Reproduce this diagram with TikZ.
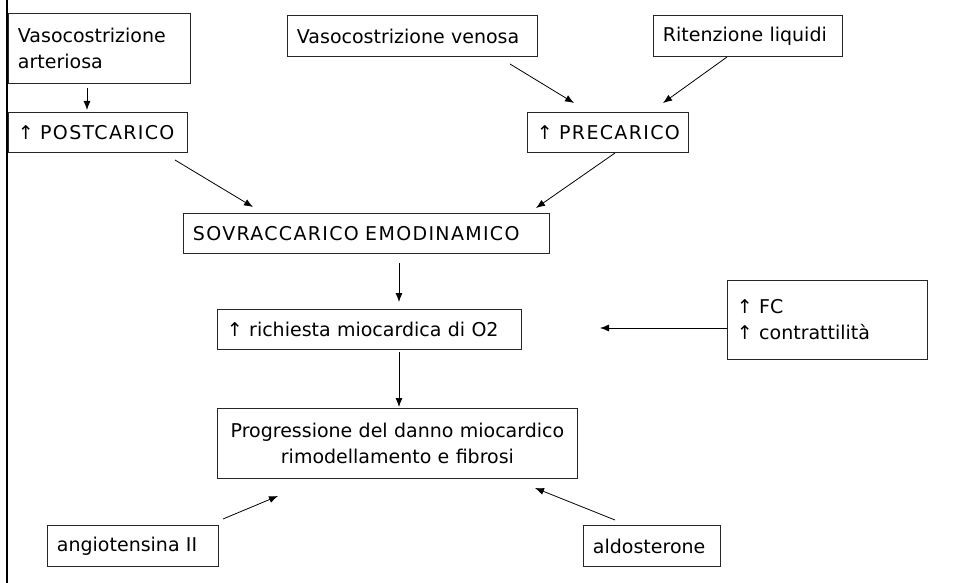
\documentclass[tikz,border=0pt]{standalone}
\usepackage{fontspec}
\setmainfont{DejaVu Sans}
\newfontfamily\capsfont[LetterSpace=7]{DejaVu Sans}
\usetikzlibrary{arrows.meta}
\begin{document}
\begin{tikzpicture}[x=1pt,y=-1pt,
  box/.style={draw=black!85, line width=0.9pt, inner xsep=9.5pt, inner ysep=0pt,
    font=\fontsize{19}{26}\selectfont, align=left, anchor=north west},
  capsbox/.style={box, font=\fontsize{19}{26}\selectfont\capsfont},
  arr/.style={-{Latex[length=9pt,width=7pt]}, line width=0.8pt}]
\fill[white] (0,0) rectangle (954,583);
\useasboundingbox (0,0) rectangle (954,583);
\draw[line width=2.6pt] (7,0) -- (7,583);
% boxes
\node[box, text width=163pt, minimum height=70pt] (va) at (8,13) {Vasocostrizione\\arteriosa};
\node[capsbox, text width=160pt, minimum height=40pt] (post) at (8,112) {\mbox{↑ POSTCARICO}};
\node[box, text width=231pt, minimum height=41pt] (vv) at (287,15) {Vasocostrizione venosa};
\node[box, text width=170pt, minimum height=41pt] (rl) at (653,15) {Ritenzione liquidi};
\node[capsbox, text width=142pt, minimum height=40pt] (pre) at (527,112) {\mbox{↑ PRECARICO}};
\node[capsbox, text width=347pt, minimum height=40pt] (sov) at (183,213) {\mbox{SOVRACCARICO EMODINAMICO}};
\node[box, text width=285pt, minimum height=40pt] (ric) at (217,309) {↑ richiesta miocardica di O2};
\node[box, text width=181pt, minimum height=79pt] (fc) at (727,280) {↑ FC\\↑ contrattilità};
\node[box, text width=341pt, minimum height=70pt, align=center] (pro) at (217,408) {Progressione del danno miocardico\\rimodellamento e fibrosi};
\node[box, text width=152pt, minimum height=41pt] (ang) at (47,525) {angiotensina II};
\node[box, text width=118pt, minimum height=41pt] (ald) at (583,525) {aldosterone};
% connector end points
\coordinate (a1s) at (87,88);   \coordinate (a1e) at (87,110);
\coordinate (a2s) at (510,64);  \coordinate (a2e) at (574,103);
\coordinate (a3s) at (727,57);  \coordinate (a3e) at (663,103);
\coordinate (a4s) at (175,160); \coordinate (a4e) at (253,207);
\coordinate (a5s) at (615,153); \coordinate (a5e) at (536,208);
\coordinate (a6s) at (399,263); \coordinate (a6e) at (399,302);
\coordinate (a7s) at (399,352); \coordinate (a7e) at (399,407);
\coordinate (a8s) at (727,328); \coordinate (a8e) at (600,328);
\coordinate (a9s) at (223,519); \coordinate (a9e) at (278,496);
\coordinate (a10s) at (615,520); \coordinate (a10e) at (535,488);
% connectors
\draw[arr] (a1s) -- (a1e);
\draw[arr] (a2s) -- (a2e);
\draw[arr] (a3s) -- (a3e);
\draw[arr] (a4s) -- (a4e);
\draw[arr] (a5s) -- (a5e);
\draw[arr] (a6s) -- (a6e);
\draw[arr] (a7s) -- (a7e);
\draw[arr] (a8s) -- (a8e);
\draw[arr] (a9s) -- (a9e);
\draw[arr] (a10s) -- (a10e);
\end{tikzpicture}
\end{document}
